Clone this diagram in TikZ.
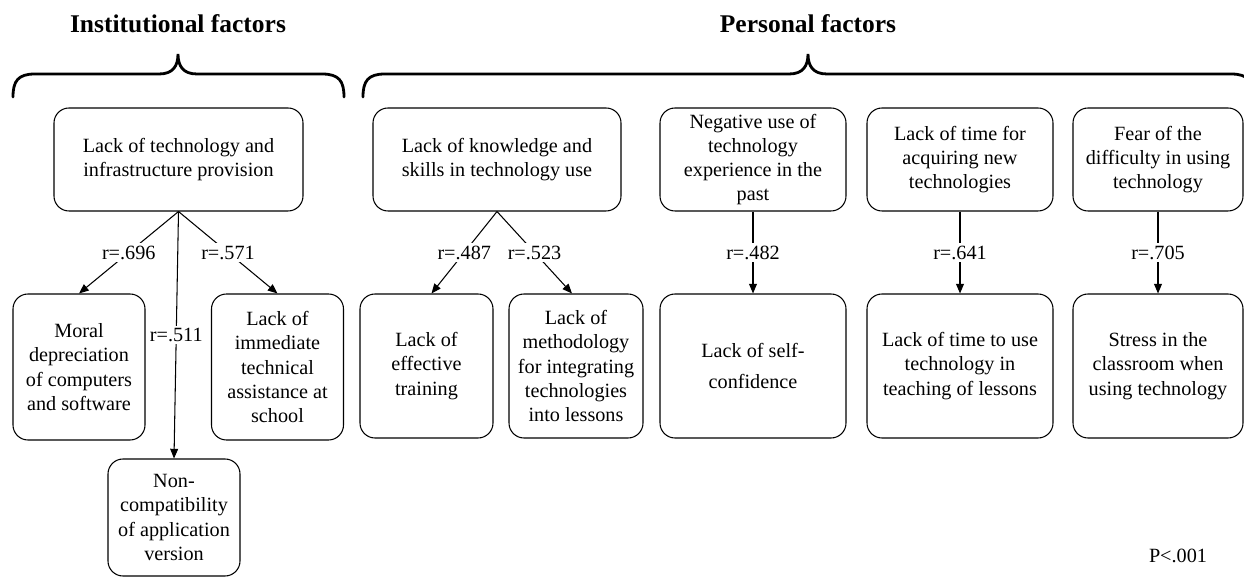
\documentclass[tikz,border=0pt]{standalone}
\usepackage{fontspec}
\setmainfont{Liberation Serif}
\usepackage{tikz}
\usetikzlibrary{arrows.meta, positioning}

\begin{document}
\begin{tikzpicture}[
    factor/.style={draw, rounded corners=0.3cm, align=center, line width=0.6pt, inner sep=2pt, font=\fontsize{11.5}{13.8}\selectfont},
    rlab/.style={fill=white, inner sep=1.5pt, font=\fontsize{11.5}{13.8}\selectfont},
    link/.style={-{Triangle[length=5.5pt, width=4.5pt]}, line width=0.6pt},
    group/.style={font=\fontsize{14.5}{17}\selectfont\bfseries},
    brace/.style={line width=1.6pt, line cap=round}
]
        \clip (0,0) rectangle (24.88,-11.56);
        % group titles and braces
        \node[group] (inst) at (3.56,-0.48) {Institutional factors};
        \node[group] (pers) at (16.16,-0.48) {Personal factors};
        \draw[brace] (0.26,-1.94) .. controls (0.26,-1.62) and (0.36,-1.48) .. (0.70,-1.48) -- (3.18,-1.48)
            .. controls (3.46,-1.48) and (3.56,-1.32) .. (3.56,-1.08) .. controls (3.56,-1.32) and (3.66,-1.48) .. (3.94,-1.48)
            -- (6.44,-1.48) .. controls (6.78,-1.48) and (6.88,-1.62) .. (6.88,-1.94);
        \draw[brace] (7.26,-1.94) .. controls (7.26,-1.62) and (7.36,-1.48) .. (7.70,-1.48) -- (15.78,-1.48)
            .. controls (16.06,-1.48) and (16.16,-1.32) .. (16.16,-1.08) .. controls (16.16,-1.32) and (16.26,-1.48) .. (16.54,-1.48)
            -- (24.62,-1.48) .. controls (24.96,-1.48) and (25.06,-1.62) .. (25.06,-1.94);
        % causes
        \node[factor, minimum width=4.98cm, minimum height=2.06cm] (infra) at (3.57,-3.19) {Lack of technology and\\infrastructure provision};
        \node[factor, minimum width=4.96cm, minimum height=2.06cm] (skills) at (9.94,-3.19) {Lack of knowledge and\\skills in technology use};
        \node[factor, minimum width=3.72cm, minimum height=2.06cm] (past) at (15.06,-3.19) {Negative use of\\technology\\experience in the\\past};
        \node[factor, minimum width=3.72cm, minimum height=2.06cm] (acquire) at (19.20,-3.19) {Lack of time for\\acquiring new\\technologies};
        \node[factor, minimum width=3.40cm, minimum height=2.06cm] (fear) at (23.16,-3.19) {Fear of the\\difficulty in using\\technology};
        % consequences
        \node[factor, minimum width=2.64cm, minimum height=2.92cm] (moral) at (1.58,-7.34) {Moral\\depreciation\\of computers\\and software};
        \node[factor, minimum width=2.64cm, minimum height=2.92cm] (assist) at (5.55,-7.34) {Lack of\\immediate\\technical\\assistance at\\school};
        \node[factor, minimum width=2.64cm, minimum height=2.34cm] (compat) at (3.48,-10.35) {Non-\\compatibility\\of application\\version};
        \node[factor, minimum width=2.66cm, minimum height=2.88cm] (training) at (8.53,-7.32) {Lack of\\effective\\training};
        \node[factor, minimum width=2.68cm, minimum height=2.88cm] (method) at (11.52,-7.32) {Lack of\\methodology\\for integrating\\technologies\\into lessons};
        \node[factor, minimum width=3.72cm, minimum height=2.88cm] (confid) at (15.06,-7.32) {Lack of self-\\[4pt]confidence};
        \node[factor, minimum width=3.72cm, minimum height=2.88cm] (timeuse) at (19.20,-7.32) {Lack of time to use\\technology in\\teaching of lessons};
        \node[factor, minimum width=3.40cm, minimum height=2.88cm] (stress) at (23.16,-7.32) {Stress in the\\classroom when\\using technology};
        % correlations
        \draw[link] (infra.south) -- node[rlab] {r=.696} (moral.north);
        \draw[link] (infra.south) -- node[rlab] {r=.511} (compat.north);
        \draw[link] (infra.south) -- node[rlab] {r=.571} (assist.north);
        \draw[link] (skills.south) -- node[rlab] {r=.487} ([xshift=0.1cm]training.north);
        \draw[link] (skills.south) -- node[rlab] {r=.523} ([xshift=-0.08cm]method.north);
        \draw[link] (past.south) -- node[rlab] {r=.482} (confid.north);
        \draw[link] (acquire.south) -- node[rlab] {r=.641} (timeuse.north);
        \draw[link] (fear.south) -- node[rlab] {r=.705} (stress.north);
        \node[rlab] (pval) at (23.56,-11.12) {P<.001};
    \end{tikzpicture}
\end{document}
